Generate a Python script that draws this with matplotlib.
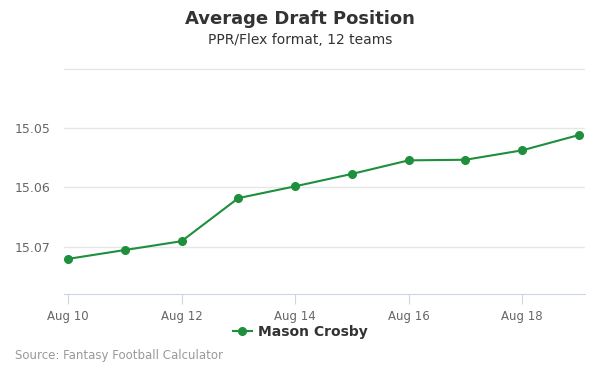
import matplotlib
matplotlib.use("Agg")
import matplotlib.pyplot as plt
import matplotlib.dates as mdates
from datetime import datetime

# ADP data (reversed axis: lower pick = better)
dates = ["2019-08-10", "2019-08-11", "2019-08-12", "2019-08-13", "2019-08-14",
         "2019-08-15", "2019-08-16", "2019-08-17", "2019-08-18", "2019-08-19"]
adp = [15.0721, 15.0706, 15.0691, 15.0618, 15.0598,
       15.0577, 15.0554, 15.0553, 15.0537, 15.0511]
player = "Mason Crosby"
yticks = [15.04, 15.05, 15.06, 15.07]
ytick_labels = ["", "15.05", "15.06", "15.07"]

GREEN = "#1e8f3c"
x = [datetime.strptime(d, "%Y-%m-%d") for d in dates]

plt.rcParams["font.family"] = ["DejaVu Sans"]
fig = plt.figure(figsize=(6, 3.75), dpi=100)
fig.patch.set_facecolor("white")
ax = fig.add_axes([64 / 600, 1 - 294.3 / 375, (585 - 64) / 600, (294.3 - 68.3) / 375])

ax.plot(x, adp, color=GREEN, lw=1.5, marker="o", ms=5.5, zorder=3)

ax.set_ylim(15.0781, 15.0398)
ax.set_yticks(yticks)
ax.set_yticklabels(ytick_labels)
day = mdates.date2num(x[0])
ax.set_xlim(day - 4 / 56.78, mdates.date2num(x[-1]) + 6 / 56.78)
ax.xaxis.set_major_locator(mdates.DayLocator(bymonthday=[10, 12, 14, 16, 18]))
ax.xaxis.set_major_formatter(mdates.DateFormatter("%b %d"))

ax.grid(axis="y", color="#e6e6e6", lw=1, zorder=0)
ax.set_axisbelow(True)
for s in ["top", "right", "left"]:
    ax.spines[s].set_visible(False)
ax.spines["bottom"].set_color("#ccd6eb")
ax.tick_params(axis="y", length=0, labelsize=9, labelcolor="#666666", pad=10)
ax.tick_params(axis="x", length=7, color="#ccd6eb", labelsize=8.5, labelcolor="#666666", pad=4)

fig.text(0.5, 1 - 19 / 375, "Average Draft Position", ha="center", va="center",
         fontsize=13, fontweight="bold", color="#333333")
fig.text(0.5, 1 - 40 / 375, "PPR/Flex format, 12 teams", ha="center", va="center",
         fontsize=10, color="#333333")

fig.legend([plt.Line2D([], [], color=GREEN, lw=1.5, marker="o", ms=5.5)], [player],
           loc="center", bbox_to_anchor=(0.5, 1 - 332 / 375), frameon=False,
           prop={"size": 10, "weight": "bold"}, handlelength=1.4, handletextpad=0.4,
           labelcolor="#333333")

fig.text(15 / 600, 1 - 356 / 375, "Source: Fantasy Football Calculator", ha="left", va="center",
         fontsize=8.5, color="#999999")

fig.savefig("out.png", dpi=100, facecolor="white")
